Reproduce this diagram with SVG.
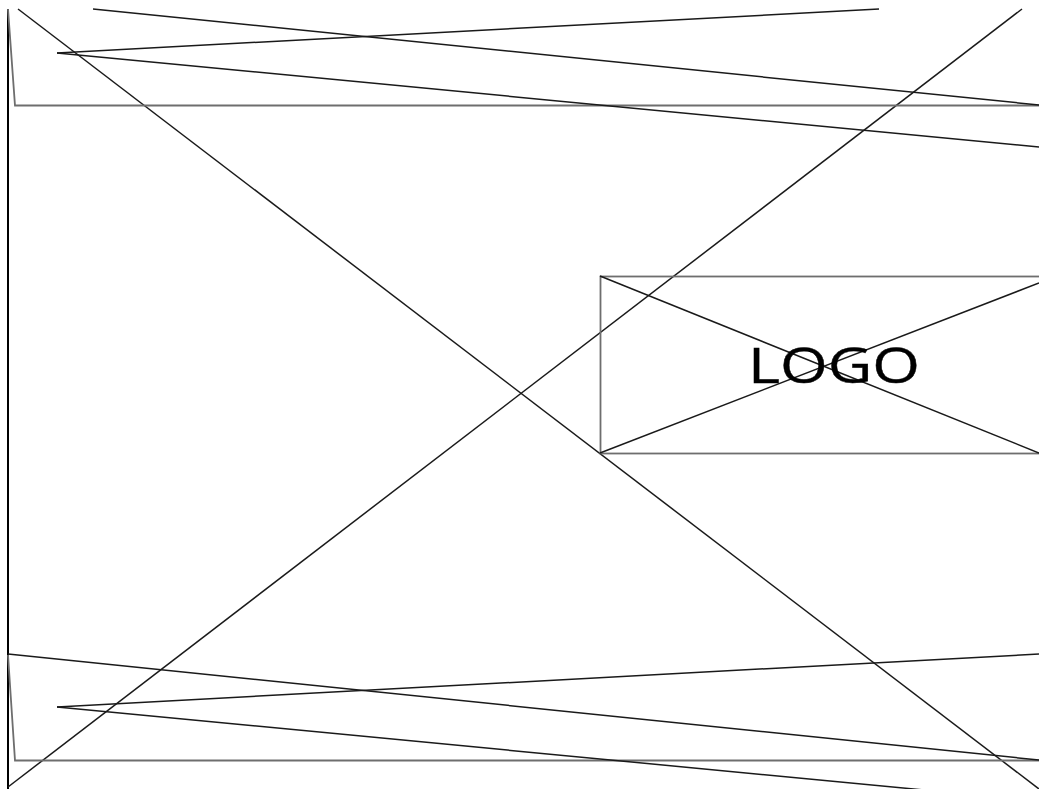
<svg xmlns="http://www.w3.org/2000/svg" width="1039" height="789" viewBox="0 0 1039 789">
<style>
.ln{fill:none;stroke:#1a1a1a;stroke-width:1.5}
.gr{fill:none;stroke:#6e6e6e;stroke-width:1.8}
.edge{fill:none;stroke:#000;stroke-width:2}
.logo{font-family:"Open Sans","DejaVu Sans",sans-serif;font-size:49px;fill:#000;stroke:#000;stroke-width:0.4}
</style>
<rect width="1039" height="789" fill="#fff"/>
<g id="frame">
<line class="edge" x1="8" y1="9" x2="8" y2="789"/>
<line class="ln" x1="18" y1="9" x2="1039" y2="789"/>
<line class="ln" x1="8" y1="787" x2="1022" y2="9"/>
</g>
<g id="header">
<polyline class="gr" points="8,9 15,105.5 1039,105.5"/>
<line class="ln" x1="93" y1="9" x2="1039" y2="105"/>
<line class="ln" x1="57" y1="53" x2="879" y2="9"/>
<line class="ln" x1="57" y1="53" x2="1039" y2="147"/>
</g>
<g id="logo">
<rect class="gr" x="600.5" y="276.5" width="460" height="177"/>
<line class="ln" x1="600" y1="276" x2="1039" y2="453"/>
<line class="ln" x1="600" y1="453" x2="1039" y2="283"/>
<text class="logo" x="748" y="383" textLength="172" lengthAdjust="spacingAndGlyphs">LOGO</text>
</g>
<g id="footer">
<polyline class="gr" points="8,655 15,760.5 1039,760.5"/>
<line class="ln" x1="8" y1="654" x2="1039" y2="760"/>
<line class="ln" x1="57" y1="707" x2="1039" y2="654"/>
<line class="ln" x1="57" y1="707" x2="1039" y2="801"/>
</g>
</svg>
